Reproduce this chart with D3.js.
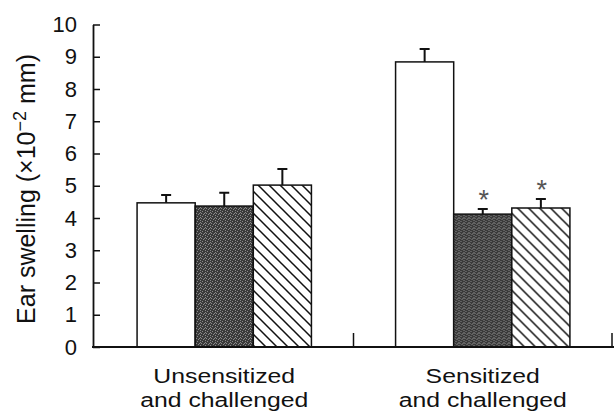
<!DOCTYPE html>
<html><head><meta charset="utf-8">
<script src="https://cdn.jsdelivr.net/npm/d3@7"></script>
<style>body{margin:0;background:#fff}svg{display:block}text{font-family:"Liberation Sans",Arial,sans-serif;fill:#111}</style>
</head><body>
<svg id="c" width="615" height="414"></svg>
<script>
const groups = ["Unsensitized|and challenged", "Sensitized|and challenged"];
const series = ["open", "solid", "hatched"];
const openMeans = [4.47, 8.84];
const openSE = [0.24, 0.40];
const solidMeans = [4.37, 4.12];
const solidSE = [0.41, 0.16];
const hatchedMeans = [5.02, 4.31];
const hatchedSE = [0.50, 0.28];
const significant = [[false, false, false], [false, true, true]];
const yTicks = [0,1,2,3,4,5,6,7,8,9,10];
const yLabel = "Ear swelling (×10";

const svg = d3.select("#c");
const defs = svg.append("defs");
const hp = defs.append("pattern").attr("id","hatch").attr("patternUnits","userSpaceOnUse")
  .attr("width",11).attr("height",11);
hp.append("rect").attr("width",11).attr("height",11).attr("fill","#fff");
hp.append("path").attr("d","M-2,-2L13,13M-2,9L2,13M9,-2L13,2").attr("stroke","#111").attr("stroke-width",1.5);
const dp = defs.append("pattern").attr("id","dark").attr("patternUnits","userSpaceOnUse")
  .attr("width",5).attr("height",5);
dp.append("rect").attr("width",5).attr("height",5).attr("fill","#3a3a3a");
[[0,0],[2,1],[4,3],[1,3],[3,4],[0,2]].forEach(([a,b])=>dp.append("rect").attr("x",a).attr("y",b).attr("width",1).attr("height",1).attr("fill","#8a8a8a"));

const fills = {open:"#fff", solid:"url(#dark)", hatched:"url(#hatch)"};
const data = groups.map((g,i)=>({g, bars:[
  {s:"open", m:openMeans[i], e:openSE[i], sig:significant[i][0]},
  {s:"solid", m:solidMeans[i], e:solidSE[i], sig:significant[i][1]},
  {s:"hatched", m:hatchedMeans[i], e:hatchedSE[i], sig:significant[i][2]}]}));

const x0 = d3.scaleBand().domain(groups).range([95, 612]).padding(0);
const x1 = d3.scaleBand().domain(series).range([0, x0.bandwidth()]).paddingInner(0).paddingOuter(0.724);
const y = d3.scaleLinear().domain([0,10]).range([347, 24.5]);

const gg = svg.selectAll("g.grp").data(data).join("g").attr("transform",d=>`translate(${x0(d.g)},0)`);
gg.selectAll("rect.bar").data(d=>d.bars).join("rect")
  .attr("x",d=>x1(d.s)).attr("width",x1.bandwidth())
  .attr("y",d=>y(d.m)).attr("height",d=>y(0)-y(d.m))
  .attr("fill",d=>fills[d.s]).attr("stroke","#111").attr("stroke-width",1.5);
gg.selectAll("path.err").data(d=>d.bars).join("path")
  .attr("d",d=>{const cx=x1(d.s)+x1.bandwidth()/2;return `M${cx},${y(d.m)}V${y(d.m+d.e)}M${cx-5},${y(d.m+d.e)}H${cx+5}`;})
  .attr("stroke","#111").attr("stroke-width",2).attr("fill","none");
gg.selectAll("text.sig").data(d=>d.bars.filter(b=>b.sig)).join("text")
  .attr("x",d=>x1(d.s)+x1.bandwidth()/2+1).attr("y",d=>y(d.m+d.e))
  .attr("text-anchor","middle").attr("font-size",27).style("fill","#555").text("*");

const ya = svg.append("g").attr("transform","translate(93,0)")
  .call(d3.axisLeft(y).tickValues(yTicks).tickSizeInner(-7).tickSizeOuter(0).tickPadding(16));
ya.select(".domain").attr("stroke","#111").attr("stroke-width",1.8);
ya.selectAll(".tick line").attr("stroke","#111").attr("stroke-width",1.5);
ya.selectAll(".tick text").attr("font-size",22).style("font-family",'"Liberation Sans",Arial,sans-serif').attr("fill","#111");

svg.append("line").attr("x1",92).attr("x2",x0.range()[1]+2).attr("y1",y(0)).attr("y2",y(0)).attr("stroke","#111").attr("stroke-width",1.8);
svg.selectAll("line.xt").data(groups).join("line")
  .attr("x1",d=>x0(d)+x0.bandwidth()).attr("x2",d=>x0(d)+x0.bandwidth())
  .attr("y1",y(0)).attr("y2",y(0)-14).attr("stroke","#111").attr("stroke-width",1.5);

const cl = svg.selectAll("text.cat").data(groups).join("text")
  .attr("text-anchor","middle").attr("font-size",21)
  .attr("transform",d=>`translate(${x0(d)+x0.bandwidth()/2},0) scale(1.18,1)`);
cl.selectAll("tspan").data(d=>d.split("|")).join("tspan")
  .attr("x",0).attr("y",(d,i)=>i===0?383:407).text(d=>d);

const yl = svg.append("text").attr("transform","translate(35,189) rotate(-90)")
  .attr("text-anchor","middle").attr("font-size",25);
yl.append("tspan").text(yLabel);
yl.append("tspan").attr("dy",-9).attr("font-size",18).text("−2");
yl.append("tspan").attr("dy",9).text(" mm)");
</script>
</body></html>
